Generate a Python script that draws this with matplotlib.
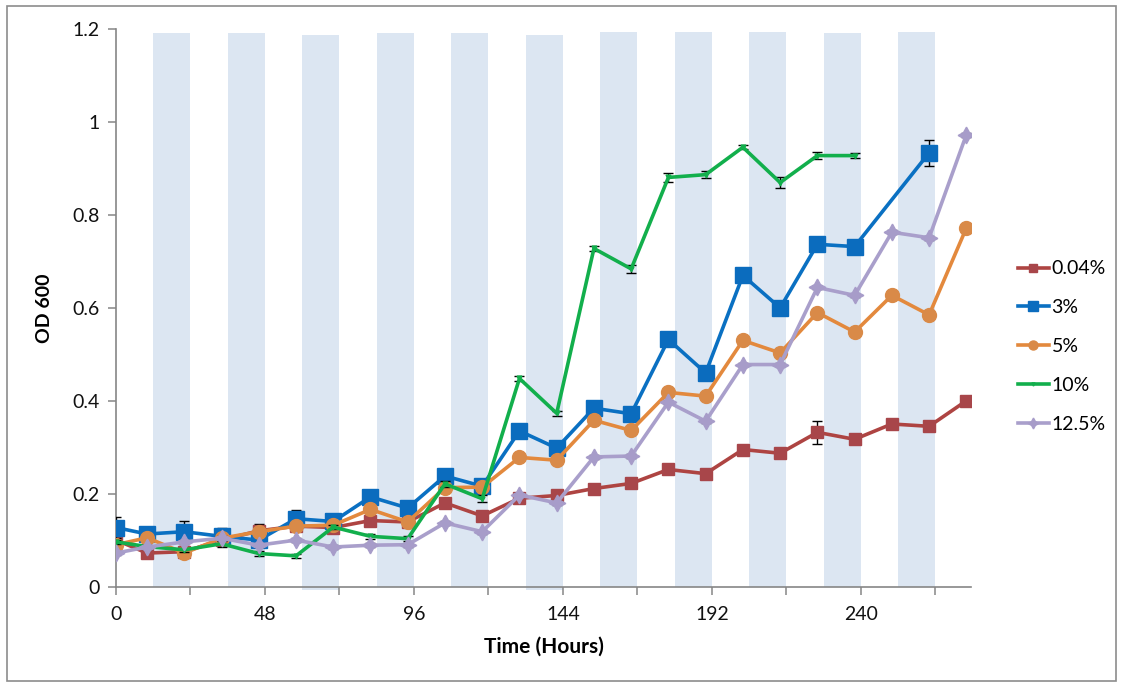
import numpy as np
import matplotlib
matplotlib.use("Agg")
import matplotlib.pyplot as plt
from matplotlib.patches import Rectangle

plt.rcParams['font.family'] = ['Lato', 'DejaVu Sans']

# ---- data ----
hours = [0, 10, 22, 34, 46, 58, 70, 82, 94, 106, 118, 130, 142, 154, 166, 178,
         190, 202, 214, 226, 238, 250, 262, 274]
nan = np.nan
od_004 = [0.100, 0.072, 0.075, 0.100, 0.120, 0.130, 0.127, 0.142, 0.139, 0.180, 0.152, 0.190,
          0.196, 0.211, 0.222, 0.252, 0.243, 0.295, 0.287, 0.332, 0.317, 0.350, 0.345, 0.400]
od_3 = [0.127, 0.113, 0.118, 0.108, 0.100, 0.146, 0.140, 0.193, 0.169, 0.238, 0.216, 0.335,
        0.298, 0.384, 0.372, 0.532, 0.460, 0.670, 0.600, 0.737, 0.732, nan, 0.934, nan]
od_5 = [0.090, 0.105, 0.072, 0.104, 0.118, 0.130, 0.132, 0.166, 0.139, 0.213, 0.214, 0.278,
        0.272, 0.358, 0.336, 0.418, 0.410, 0.530, 0.503, 0.590, 0.548, 0.627, 0.585, 0.772]
od_10 = [0.096, 0.086, 0.079, 0.092, 0.071, 0.066, 0.128, 0.108, 0.103, 0.221, 0.189, 0.448,
         0.373, 0.728, 0.684, 0.881, 0.887, 0.946, 0.870, 0.928, 0.928, nan, nan, nan]
od_125 = [0.072, 0.085, 0.096, 0.104, 0.089, 0.100, 0.085, 0.089, 0.090, 0.137, 0.118, 0.197,
          0.180, 0.279, 0.281, 0.397, 0.356, 0.478, 0.478, 0.644, 0.627, 0.763, 0.751, 0.973]

err_004 = [0.006, 0.004, 0.004, 0.005, 0.015, 0.005, 0.004, 0.004, 0.004, 0.004, 0.004, 0.004,
           0.004, 0.004, 0.004, 0.004, 0.004, 0.004, 0.004, 0.025, 0.004, 0.004, 0.004, 0.004]
err_3 = [0.022, 0.005, 0.023, 0.017, 0.008, 0.018, 0.006, 0.010, 0.012, 0.008, 0.006, 0.005,
         0.005, 0.005, 0.005, 0.005, 0.005, 0.005, 0.005, 0.005, 0.005, nan, 0.028, nan]
err_5 = [0.004] * 24
err_10 = [0.004, 0.004, 0.004, 0.006, 0.006, 0.004, 0.004, 0.006, 0.006, 0.006, 0.008, 0.006,
          0.006, 0.006, 0.008, 0.010, 0.007, 0.004, 0.012, 0.008, 0.006, nan, nan, nan]
err_125 = [0.004] * 24

labels = ['0.04%', '3%', '5%', '10%', '12.5%']

# night shading (12 h dark periods)
band_start = [12, 36, 60, 84, 108, 132, 156, 180, 204, 228, 252]
band_top = [1.192, 1.192, 1.188, 1.192, 1.192, 1.188, 1.195, 1.195, 1.195, 1.192, 1.195]
band_bottom = [0, 0, -0.008, 0, 0, -0.008, 0, 0, 0, 0, 0]
band_len = 12

# ---- figure ----
W, H = 1121, 685
fig = plt.figure(figsize=(W / 100, H / 100), dpi=100)
ax = fig.add_axes([116 / W, 1 - 586.5 / H, (971 - 116) / W, (586.5 - 29.3) / H])

for s, t, b in zip(band_start, band_top, band_bottom):
    ax.bar(s, t - b, bottom=b, width=band_len, align='edge', color='#DCE6F2',
           edgecolor='none', zorder=0, clip_on=False)

styles = [
    dict(color='#AE4442', marker='s', ms=9, mfc='#A8464A', mec='#A8464A'),
    dict(color='#0A70C2', marker='s', ms=12, mfc='#0B6CBE', mec='#0B6CBE'),
    dict(color='#E3893D', marker='o', ms=10, mfc='#D98A48', mec='#D98A48'),
    dict(color='#12AF4C', marker='v', ms=3.5, mfc='#12AF4C', mec='#12AF4C'),
    dict(color='#A99FCB', marker=(4, 1, 0), ms=12, mfc='#A79CC9', mec='#A79CC9'),
]
series = [od_004, od_3, od_5, od_10, od_125]
errs = [err_004, err_3, err_5, err_10, err_125]

handles = []
for i, (vals, er, st, lab) in enumerate(zip(series, errs, styles, labels)):
    v = np.array(vals, float)
    e = np.array(er, float)
    x = np.array(hours, float)
    m = ~np.isnan(v)
    ax.errorbar(x[m], v[m], yerr=e[m], fmt='none', ecolor='black', elinewidth=1,
                capsize=3.5, capthick=1, zorder=2 + i)
    h, = ax.plot(x[m], v[m], lw=2.6, zorder=2.5 + i, label=lab, **st)
    handles.append(h)

ax.set_xlim(0, 275.5)
ax.set_ylim(0, 1.2)
ax.set_xticks([0, 48, 96, 144, 192, 240])
ax.set_xticks([24, 72, 120, 168, 216, 264], minor=True)
ax.set_yticks([0, 0.2, 0.4, 0.6, 0.8, 1.0, 1.2])
ax.set_yticklabels(['0', '0.2', '0.4', '0.6', '0.8', '1', '1.2'])

for sp in ['top', 'right']:
    ax.spines[sp].set_visible(False)
for sp in ['left', 'bottom']:
    ax.spines[sp].set_color('#868686')
    ax.spines[sp].set_linewidth(1.2)
    ax.spines[sp].set_zorder(1)

ax.tick_params(axis='both', which='both', direction='out', length=6, width=1.1,
               color='#868686', labelsize=14, labelcolor='#111111')
ax.tick_params(axis='x', pad=8)
ax.tick_params(axis='y', pad=6)

ax.set_xlabel('Time (Hours)', fontsize=15, fontweight='bold', labelpad=10)
ax.set_ylabel('OD 600', fontsize=14, fontweight='bold', labelpad=14)

leg = fig.legend(handles=handles, labels=labels, loc='upper left',
                 bbox_to_anchor=(1000 / W, 1 - 243 / H), frameon=False,
                 fontsize=14, handlelength=1.6, handletextpad=0.15, labelspacing=1.12,
                 markerscale=0.65)

# outer border
fig.patches.append(Rectangle((7 / W, 4 / H), (1116 - 7) / W, (679 - 4) / H,
                             transform=fig.transFigure, fill=False,
                             edgecolor='#8c8c8c', lw=1.2))

fig.savefig('out.png', dpi=100)
